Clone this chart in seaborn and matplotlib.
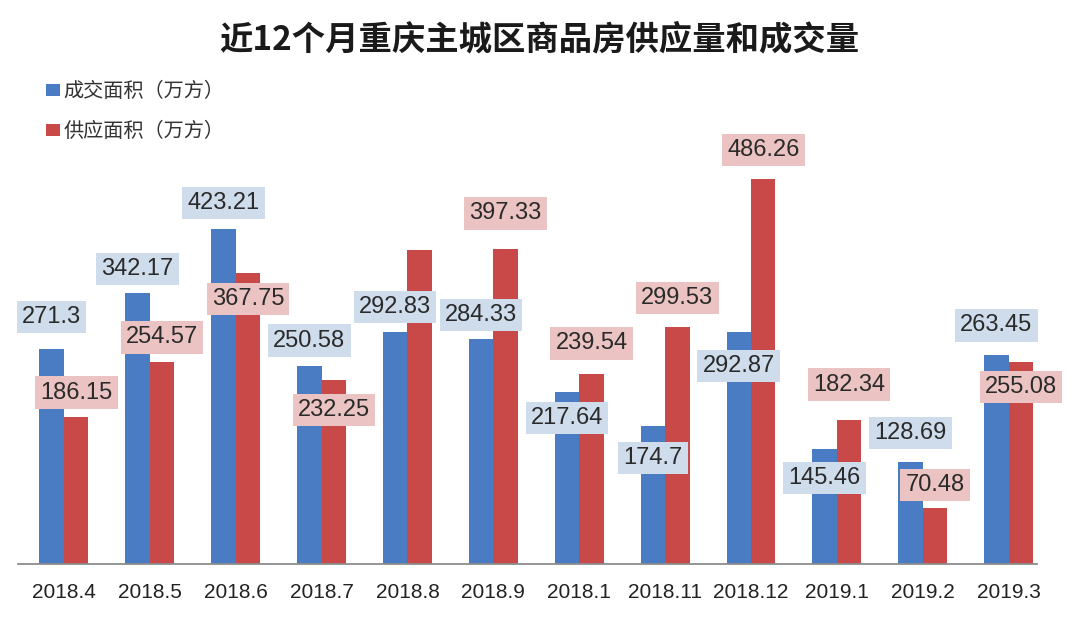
import matplotlib
matplotlib.use("Agg")
import matplotlib.pyplot as plt
import seaborn as sns
import pandas as pd

# ---- data ----
months = ["2018.4", "2018.5", "2018.6", "2018.7", "2018.8", "2018.9",
          "2018.1", "2018.11", "2018.12", "2019.1", "2019.2", "2019.3"]
deal_area = [271.3, 342.17, 423.21, 250.58, 292.83, 284.33,
             217.64, 174.7, 292.87, 145.46, 128.69, 263.45]
supply_area = [186.15, 254.57, 367.75, 232.25, 396.0, 397.33,
               239.54, 299.53, 486.26, 182.34, 70.48, 255.08]
supply_label_shown = [True, True, True, True, False, True,
                      True, True, True, True, True, True]
series_names = ["成交面积（万方）", "供应面积（万方）"]
title = "近12个月重庆主城区商品房供应量和成交量"

# ---- layout / style ----
deal_offset_px = [32, 24, 26, 25, 25, 24, -26, -32, -34, -29, 29, 30]
supply_offset_px = [24, 25, -26, -30, 0, 36, 31, 29, 29, 35, 23, -25]
BLUE = "#4a7cc4"
RED = "#c94848"
BLUE_BOX = "#cfdcec"
RED_BOX = "#ebc3c3"

sns.set_theme(style="white")
plt.rcParams["font.family"] = ["Liberation Sans", "Noto Sans CJK SC", "DejaVu Sans"]

df = pd.DataFrame({
    "month": months * 2,
    "value": deal_area + supply_area,
    "series": [series_names[0]] * len(months) + [series_names[1]] * len(months),
})

W, H = 1080, 618
fig = plt.figure(figsize=(W / 100, H / 100), dpi=100)
fig.patch.set_facecolor("white")
ax = fig.add_axes([18 / W, 54 / H, 1019 / W, 475 / H])

sns.barplot(data=df, x="month", y="value", hue="series", order=months,
            hue_order=series_names, palette=[BLUE, RED], width=0.57,
            saturation=1, ax=ax, errorbar=None, legend=True, linewidth=0)

ax.set_xlim(-0.535, 11.33)
ax.set_ylim(0, 600)
ax.set_xlabel("")
ax.set_ylabel("")
ax.set_yticks([])
for s in ["top", "right", "left"]:
    ax.spines[s].set_visible(False)
ax.spines["bottom"].set_color("#8c8c8c")
ax.spines["bottom"].set_linewidth(1.3)
ax.tick_params(axis="x", length=0, pad=14, labelsize=15, labelcolor="#222222")
for lab in ax.get_xticklabels():
    lab.set_family(["Liberation Sans", "DejaVu Sans"])

# value labels
px2pt = 0.72
conts = ax.containers
for bars, vals, offs, box, shown in [
    (conts[0], deal_area, deal_offset_px, BLUE_BOX, [True] * len(months)),
    (conts[1], supply_area, supply_offset_px, RED_BOX, supply_label_shown),
]:
    for rect, v, o, sh in zip(bars, vals, offs, shown):
        if not sh:
            continue
        cx = rect.get_x() + rect.get_width() / 2
        ax.annotate(f"{v:g}", xy=(cx, rect.get_height()),
                    xytext=(0, o * px2pt), textcoords="offset points",
                    ha="center", va="center", fontsize=17, color="#2a2a2a",
                    family=["Liberation Sans", "DejaVu Sans"],
                    bbox=dict(boxstyle="square,pad=0.22", fc=box, ec="none"),
                    annotation_clip=False, zorder=5)

# legend
sns.move_legend(ax, "upper left", bbox_to_anchor=(46 / W, 1 - 81 / H),
                bbox_transform=fig.transFigure, title=None, frameon=False,
                handlelength=0.7, handleheight=0.5,
                handletextpad=0.15, labelspacing=0.95, borderpad=0,
                borderaxespad=0, prop={"family": ["Noto Sans CJK SC"], "size": 14.5})
leg = ax.get_legend()
for t in leg.get_texts():
    t.set_color("#333333")

fig.text(539 / W, 1 - 40 / H, title, ha="center", va="center",
         fontsize=24, fontweight="bold", color="#1a1a1a",
         family=["Noto Sans CJK SC", "DejaVu Sans"])

fig.savefig("out.png", dpi=100, facecolor="white")
